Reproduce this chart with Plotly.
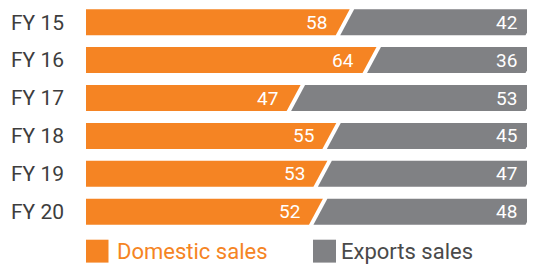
import plotly.graph_objects as go

categories = ["FY 15", "FY 16", "FY 17", "FY 18", "FY 19", "FY 20"]
domestic = [58, 64, 47, 55, 53, 52]
exports = [42, 36, 53, 45, 47, 48]
series_names = ["Domestic sales", "Exports sales"]

ORANGE = "#F58423"
GRAY = "#808184"
TEXT_DARK = "#3d3d3d"
FONT = "Roboto"

H = 0.343     # half bar height (row units)
S = 1.56      # half slant (x units)
G = 0.5       # half gap (x units)

W, HT = 527, 257   # page adds an 8px body margin


def py(p):  # reference pixel y -> paper y
    return 1 - (p - 8) / HT


def px(p):  # reference pixel x -> paper x
    return (p - 86) / 449


fig = go.Figure()
for i, (d, e) in enumerate(zip(domestic, exports)):
    total = d + e
    yt, yb = i - H, i + H
    fig.add_trace(go.Scatter(
        x=[0, d - G + S, d - G - S, 0, 0],
        y=[yt, yt, yb, yb, yt],
        fill="toself", fillcolor=ORANGE, mode="none",
        hoverinfo="skip", showlegend=False))
    fig.add_trace(go.Scatter(
        x=[d + G + S, total + S, total - S, d + G - S, d + G + S],
        y=[yt, yt, yb, yb, yt],
        fill="toself", fillcolor=GRAY, mode="none",
        hoverinfo="skip", showlegend=False))
    fig.add_annotation(x=d, y=i, text=str(d), showarrow=False,
                       xanchor="right", yanchor="middle", xshift=-16,
                       font=dict(family=FONT, size=19, color="white"))
    fig.add_annotation(x=total, y=i, text=str(e), showarrow=False,
                       xanchor="right", yanchor="middle", xshift=-14,
                       font=dict(family=FONT, size=19, color="white"))

# legend
fig.add_shape(type="rect", xref="paper", yref="paper",
              x0=px(86), x1=px(108.5), y0=py(262.6), y1=py(239.7),
              fillcolor=ORANGE, line_width=0)
fig.add_annotation(xref="paper", yref="paper", x=px(115), y=py(251),
                   text=series_names[0], showarrow=False,
                   xanchor="left", yanchor="middle",
                   font=dict(family=FONT, size=22, color=ORANGE))
fig.add_shape(type="rect", xref="paper", yref="paper",
              x0=px(313), x1=px(336), y0=py(262.6), y1=py(239.7),
              fillcolor=GRAY, line_width=0)
fig.add_annotation(xref="paper", yref="paper", x=px(339), y=py(251),
                   text=series_names[1], showarrow=False,
                   xanchor="left", yanchor="middle",
                   font=dict(family=FONT, size=22, color="#4a4a4a"))

fig.update_layout(
    width=W, height=HT,
    margin=dict(l=78, r=0, t=0, b=0),
    paper_bgcolor="white", plot_bgcolor="white",
    showlegend=False,
    xaxis=dict(range=[0, 100.56], visible=False, fixedrange=True),
    yaxis=dict(range=[(257 - 14.2) / 37.9, -14.2 / 37.9],
               tickvals=list(range(len(categories))),
               ticktext=categories, showgrid=False, zeroline=False,
               showline=False, ticks="", ticklabelstandoff=21,
               tickfont=dict(family=FONT, size=21, color=TEXT_DARK),
               fixedrange=True),
)

fig.write_html("out.html", config={"displayModeBar": False})
